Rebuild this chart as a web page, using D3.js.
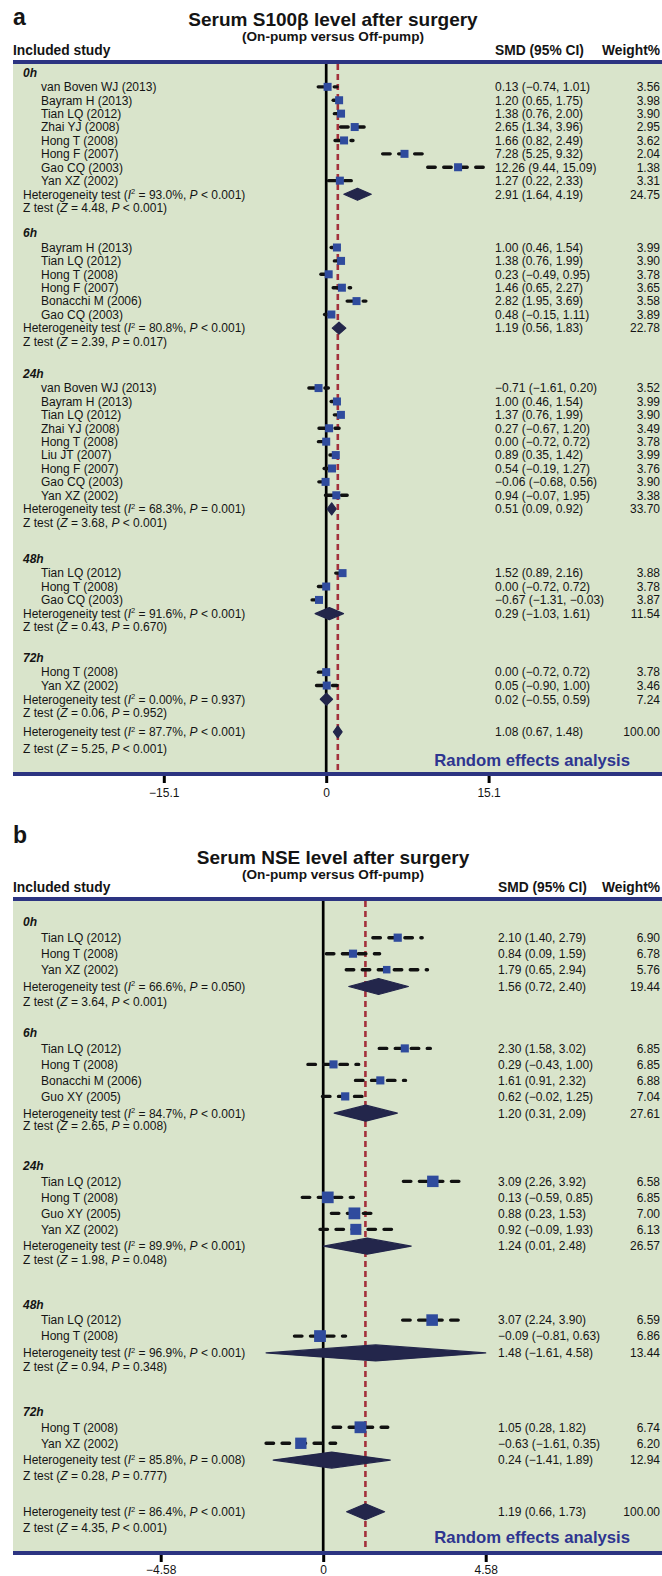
<!DOCTYPE html>
<html><head><meta charset="utf-8">
<script src="https://cdn.jsdelivr.net/npm/d3@7"></script>
<style>
html,body{margin:0;padding:0;background:#fff;}
svg{display:block;font-family:"Liberation Sans",Arial,Helvetica,sans-serif;}
</style></head><body>
<svg id="chart" width="662" height="1576"></svg>
<script>
// ================= DATA: panel a, Serum S100β =================
const s100Groups = ["0h", "6h", "24h", "48h", "72h"];
const s100StudyGroup = [0,0,0,0,0,0,0,0, 1,1,1,1,1,1, 2,2,2,2,2,2,2,2,2, 3,3,3, 4,4];
const s100Studies = [
  "van Boven WJ (2013)", "Bayram H (2013)", "Tian LQ (2012)", "Zhai YJ (2008)", "Hong T (2008)", "Hong F (2007)", "Gao CQ (2003)", "Yan XZ (2002)",
  "Bayram H (2013)", "Tian LQ (2012)", "Hong T (2008)", "Hong F (2007)", "Bonacchi M (2006)", "Gao CQ (2003)",
  "van Boven WJ (2013)", "Bayram H (2013)", "Tian LQ (2012)", "Zhai YJ (2008)", "Hong T (2008)", "Liu JT (2007)", "Hong F (2007)", "Gao CQ (2003)", "Yan XZ (2002)",
  "Tian LQ (2012)", "Hong T (2008)", "Gao CQ (2003)",
  "Hong T (2008)", "Yan XZ (2002)"
];
const s100Smd = [0.13, 1.20, 1.38, 2.65, 1.66, 7.28, 12.26, 1.27,
  1.00, 1.38, 0.23, 1.46, 2.82, 0.48,
  -0.71, 1.00, 1.37, 0.27, 0.00, 0.89, 0.54, -0.06, 0.94,
  1.52, 0.00, -0.67,
  0.00, 0.05];
const s100Lo = [-0.74, 0.65, 0.76, 1.34, 0.82, 5.25, 9.44, 0.22,
  0.46, 0.76, -0.49, 0.65, 1.95, -0.15,
  -1.61, 0.46, 0.76, -0.67, -0.72, 0.35, -0.19, -0.68, -0.07,
  0.89, -0.72, -1.31,
  -0.72, -0.90];
const s100Hi = [1.01, 1.75, 2.00, 3.96, 2.49, 9.32, 15.09, 2.33,
  1.54, 1.99, 0.95, 2.27, 3.69, 1.11,
  0.20, 1.54, 1.99, 1.20, 0.72, 1.42, 1.27, 0.56, 1.95,
  2.16, 0.72, -0.03,
  0.72, 1.00];
const s100Weight = [3.56, 3.98, 3.90, 2.95, 3.62, 2.04, 1.38, 3.31,
  3.99, 3.90, 3.78, 3.65, 3.58, 3.89,
  3.52, 3.99, 3.90, 3.49, 3.78, 3.99, 3.76, 3.90, 3.38,
  3.88, 3.78, 3.87,
  3.78, 3.46];
const s100SubSmd = [2.91, 1.19, 0.51, 0.29, 0.02];
const s100SubLo = [1.64, 0.56, 0.09, -1.03, -0.55];
const s100SubHi = [4.19, 1.83, 0.92, 1.61, 0.59];
const s100SubWeight = [24.75, 22.78, 33.70, 11.54, 7.24];
const s100SubI2 = ["93.0", "80.8", "68.3", "91.6", "0.00"];
const s100SubPHet = ["< 0.001", "< 0.001", "= 0.001", "< 0.001", "= 0.937"];
const s100SubZ = ["4.48", "2.39", "3.68", "0.43", "0.06"];
const s100SubPZ = ["< 0.001", "= 0.017", "< 0.001", "= 0.670", "= 0.952"];
const s100Overall = [1.08, 0.67, 1.48, 100.00];          // SMD, lower, upper, weight
const s100OverallStats = ["87.7", "< 0.001", "5.25", "< 0.001"]; // I2, P(het), Z, P(Z)
const s100Ticks = [-15.1, 0, 15.1];

// ================= DATA: panel b, Serum NSE =================
const nseGroups = ["0h", "6h", "24h", "48h", "72h"];
const nseStudyGroup = [0,0,0, 1,1,1,1, 2,2,2,2, 3,3, 4,4];
const nseStudies = [
  "Tian LQ (2012)", "Hong T (2008)", "Yan XZ (2002)",
  "Tian LQ (2012)", "Hong T (2008)", "Bonacchi M (2006)", "Guo XY (2005)",
  "Tian LQ (2012)", "Hong T (2008)", "Guo XY (2005)", "Yan XZ (2002)",
  "Tian LQ (2012)", "Hong T (2008)",
  "Hong T (2008)", "Yan XZ (2002)"
];
const nseSmd = [2.10, 0.84, 1.79, 2.30, 0.29, 1.61, 0.62, 3.09, 0.13, 0.88, 0.92, 3.07, -0.09, 1.05, -0.63];
const nseLo = [1.40, 0.09, 0.65, 1.58, -0.43, 0.91, -0.02, 2.26, -0.59, 0.23, -0.09, 2.24, -0.81, 0.28, -1.61];
const nseHi = [2.79, 1.59, 2.94, 3.02, 1.00, 2.32, 1.25, 3.92, 0.85, 1.53, 1.93, 3.90, 0.63, 1.82, 0.35];
const nseWeight = [6.90, 6.78, 5.76, 6.85, 6.85, 6.88, 7.04, 6.58, 6.85, 7.00, 6.13, 6.59, 6.86, 6.74, 6.20];
const nseSubSmd = [1.56, 1.20, 1.24, 1.48, 0.24];
const nseSubLo = [0.72, 0.31, 0.01, -1.61, -1.41];
const nseSubHi = [2.40, 2.09, 2.48, 4.58, 1.89];
const nseSubWeight = [19.44, 27.61, 26.57, 13.44, 12.94];
const nseSubI2 = ["66.6", "84.7", "89.9", "96.9", "85.8"];
const nseSubPHet = ["= 0.050", "< 0.001", "< 0.001", "< 0.001", "= 0.008"];
const nseSubZ = ["3.64", "2.65", "1.98", "0.94", "0.28"];
const nseSubPZ = ["< 0.001", "= 0.008", "= 0.048", "= 0.348", "= 0.777"];
const nseOverall = [1.19, 0.66, 1.73, 100.00];
const nseOverallStats = ["86.4", "< 0.001", "4.35", "< 0.001"];
const nseTicks = [-4.58, 0, 4.58];

// ================= LAYOUT / STYLE =================
const W = 662;
const C = {
  green: "#d9e4cb", border: "#2c3481", square: "#2f4b9d", diamond: "#23264b",
  red: "#a3303b", text: "#141414", ra: "#2e3590"
};
const layoutA = {
  letter: "a", title: "Serum S100\u03b2 level after surgery",
  letterY: 25, titleY: 25.5, subY: 40.5, headY: 54.5,
  boxTop: 60, boxBottom: 772,
  rowY0: 72.5, pitch: 13.4, hdrGap: 1.07, hetGap: 1.02, zGaps: [1, 1, 1, 1, 1],
  groupGaps: [0, 1.9, 2.4, 2.72, 2.3], overallGap: 1.43, overallZGap: 1.27,
  domain: [-15.1, 15.1], xRange: [163.8, 488.6], diamondH: 12,
  squareBase: [8, 8, 8, 8, 8], squareByWeight: false,
  smdX: 495, tickLabelDy: 21, raY: 766
};
const layoutB = {
  letter: "b", title: "Serum NSE level after surgery",
  letterY: 843, titleY: 864, subY: 878.5, headY: 892.3,
  boxTop: 897, boxBottom: 1551,
  rowY0: 922, pitch: 16, hdrGap: 0.98, hetGap: 1.05, zGaps: [0.95, 0.81, 0.83, 0.86, 1.0],
  groupGaps: [0, 1.94, 2.47, 2.81, 2.81], overallGap: 2.23, overallZGap: 1.0,
  domain: [-4.58, 4.58], xRange: [160.7, 485.7], diamondH: 16,
  squareBase: [8.2, 8.2, 11.8, 11.8, 11.8], squareByWeight: true,
  smdX: 498, tickLabelDy: 19, raY: 1543.3
};

const svg = d3.select("#chart");
const f2 = d3.format(".2f");
const ciText = (m, l, h) => `${f2(m)} (${f2(l)}, ${f2(h)})`;

function drawPanel(L, D) {
  const g = svg.append("g");
  const x = d3.scaleLinear().domain(L.domain).range(L.xRange);
  const y = d3.scaleLinear().domain([0, 1]).range([L.rowY0, L.rowY0 + L.pitch]);

  // ---- build rows ----
  const rows = [];
  let slot = 0;
  D.groups.forEach((gname, gi) => {
    slot += L.groupGaps[gi];
    rows.push({ type: "hdr", slot, label: gname });
    const s0 = slot + L.hdrGap;
    const idx = D.studies.map((_, i) => i).filter(i => D.studyGroup[i] === gi);
    const maxW = d3.max(idx, i => D.weight[i]);
    idx.forEach((i, k) => rows.push({
      type: "study", slot: s0 + k, label: D.studies[i], smd: D.smd[i], lo: D.lo[i], hi: D.hi[i],
      w: D.weight[i], size: L.squareByWeight ? L.squareBase[gi] * Math.sqrt(D.weight[i] / maxW) : L.squareBase[gi]
    }));
    const hs = s0 + idx.length - 1 + L.hetGap;
    rows.push({ type: "het", slot: hs, i2: D.subI2[gi], p: D.subPHet[gi], smd: D.subSmd[gi], lo: D.subLo[gi], hi: D.subHi[gi], w: D.subWeight[gi] });
    const zs = hs + L.zGaps[gi];
    rows.push({ type: "z", slot: zs, z: D.subZ[gi], p: D.subPZ[gi] });
    slot = zs;
  });
  const oh = slot + L.overallGap;
  rows.push({ type: "het", slot: oh, i2: D.overallStats[0], p: D.overallStats[1], smd: D.overall[0], lo: D.overall[1], hi: D.overall[2], w: D.overall[3] });
  rows.push({ type: "z", slot: oh + L.overallZGap, z: D.overallStats[2], p: D.overallStats[3] });

  // ---- titles ----
  g.append("text").attr("x", 13).attr("y", L.letterY).attr("font-size", 23).attr("font-weight", "bold").attr("fill", C.text).text(L.letter);
  g.append("text").attr("x", 333).attr("y", L.titleY).attr("text-anchor", "middle").attr("font-size", 19).attr("font-weight", "bold").attr("fill", C.text).text(L.title);
  g.append("text").attr("x", 333).attr("y", L.subY).attr("text-anchor", "middle").attr("font-size", 13.6).attr("font-weight", "bold").attr("fill", C.text).text("(On-pump versus Off-pump)");
  g.append("text").attr("x", 13).attr("y", L.headY).attr("font-size", 13.8).attr("font-weight", "bold").attr("fill", C.text).text("Included study");
  g.append("text").attr("x", L.smdX).attr("y", L.headY).attr("font-size", 13.8).attr("font-weight", "bold").attr("fill", C.text).text("SMD (95% CI)");
  g.append("text").attr("x", 660).attr("y", L.headY).attr("text-anchor", "end").attr("font-size", 13.8).attr("font-weight", "bold").attr("fill", C.text).text("Weight%");

  // ---- background box ----
  g.append("rect").attr("x", 13).attr("y", L.boxTop).attr("width", W - 13).attr("height", L.boxBottom - L.boxTop).attr("fill", C.green);

  // ---- vertical reference lines ----
  g.append("line").attr("x1", x(0)).attr("x2", x(0)).attr("y1", L.boxTop).attr("y2", L.boxBottom)
    .attr("stroke", "#000").attr("stroke-width", 2.7);
  g.append("line").attr("x1", x(D.overall[0])).attr("x2", x(D.overall[0])).attr("y1", L.boxTop + 4).attr("y2", L.boxBottom)
    .attr("stroke", C.red).attr("stroke-width", 2.6).attr("stroke-dasharray", "6,4");

  // ---- study CIs and squares ----
  const studies = rows.filter(r => r.type === "study");
  g.selectAll(".ci").data(studies).join("line").attr("class", "ci")
    .attr("x1", d => x(d.lo)).attr("x2", d => x(d.hi)).attr("y1", d => y(d.slot)).attr("y2", d => y(d.slot))
    .attr("stroke", "#111").attr("stroke-width", 3.4).attr("stroke-linecap", "round").attr("stroke-dasharray", "7.5,8.5");
  g.selectAll(".sq").data(studies).join("rect").attr("class", "sq")
    .attr("x", d => x(d.smd) - d.size / 2).attr("y", d => y(d.slot) - d.size / 2)
    .attr("width", d => d.size).attr("height", d => d.size).attr("fill", C.square);

  // ---- diamonds ----
  const hets = rows.filter(r => r.type === "het");
  const h2 = L.diamondH / 2;
  g.selectAll(".dm").data(hets).join("path").attr("class", "dm")
    .attr("d", d => {
      const cy = y(d.slot);
      return `M${x(d.lo)},${cy}L${x(d.smd)},${cy - h2}L${x(d.hi)},${cy}L${x(d.smd)},${cy + h2}Z`;
    })
    .attr("fill", C.diamond).attr("stroke", C.diamond).attr("stroke-width", 1.2).attr("stroke-linejoin", "round");

  // ---- borders ----
  g.append("rect").attr("x", 13).attr("y", L.boxTop).attr("width", W - 13).attr("height", 4).attr("fill", C.border);
  g.append("rect").attr("x", 13).attr("y", L.boxBottom).attr("width", W - 13).attr("height", 4).attr("fill", C.border);

  // ---- axis ----
  const ax = g.append("g").attr("transform", `translate(0,${L.boxBottom + 4})`)
    .call(d3.axisBottom(x).tickValues(D.ticks).tickSize(7).tickFormat(d3.format("")));
  ax.select(".domain").remove();
  ax.selectAll(".tick line").attr("stroke", "#000").attr("stroke-width", 3);
  ax.selectAll(".tick text").attr("y", L.tickLabelDy).attr("dy", null)
    .attr("font-family", "Liberation Sans, Arial, sans-serif").attr("font-size", 12).attr("fill", C.text);

  // ---- left text ----
  const tx = g.append("g").attr("font-size", 12).attr("fill", C.text);
  rows.forEach(r => {
    const ty = y(r.slot) + 4.3;
    if (r.type === "hdr") {
      tx.append("text").attr("x", 23).attr("y", ty).attr("font-weight", "bold").attr("font-style", "italic").text(r.label);
    } else if (r.type === "study") {
      tx.append("text").attr("x", 41).attr("y", ty).text(r.label);
    } else if (r.type === "het") {
      const t = tx.append("text").attr("x", 23).attr("y", ty);
      t.append("tspan").text("Heterogeneity test (");
      t.append("tspan").attr("font-style", "italic").text("I");
      t.append("tspan").attr("font-size", 7.5).attr("dy", -4.5).text("2");
      t.append("tspan").attr("dy", 4.5).text(` = ${r.i2}%, `);
      t.append("tspan").attr("font-style", "italic").text("P");
      t.append("tspan").text(` ${r.p})`);
    } else if (r.type === "z") {
      const t = tx.append("text").attr("x", 23).attr("y", ty);
      t.append("tspan").text("Z test (");
      t.append("tspan").attr("font-style", "italic").text("Z");
      t.append("tspan").text(` = ${r.z}, `);
      t.append("tspan").attr("font-style", "italic").text("P");
      t.append("tspan").text(` ${r.p})`);
    }
    if (r.type === "study" || r.type === "het") {
      tx.append("text").attr("x", L.smdX).attr("y", ty).text(ciText(r.smd, r.lo, r.hi));
      tx.append("text").attr("x", 660).attr("y", ty).attr("text-anchor", "end").text(f2(r.w));
    }
  });

  g.append("text").attr("x", 630).attr("y", L.raY).attr("text-anchor", "end").attr("font-size", 16.7)
    .attr("font-weight", "bold").attr("fill", C.ra).text("Random effects analysis");
}

drawPanel(layoutA, {
  groups: s100Groups, studyGroup: s100StudyGroup, studies: s100Studies, smd: s100Smd, lo: s100Lo, hi: s100Hi, weight: s100Weight,
  subSmd: s100SubSmd, subLo: s100SubLo, subHi: s100SubHi, subWeight: s100SubWeight, subI2: s100SubI2, subPHet: s100SubPHet,
  subZ: s100SubZ, subPZ: s100SubPZ, overall: s100Overall, overallStats: s100OverallStats, ticks: s100Ticks
});
drawPanel(layoutB, {
  groups: nseGroups, studyGroup: nseStudyGroup, studies: nseStudies, smd: nseSmd, lo: nseLo, hi: nseHi, weight: nseWeight,
  subSmd: nseSubSmd, subLo: nseSubLo, subHi: nseSubHi, subWeight: nseSubWeight, subI2: nseSubI2, subPHet: nseSubPHet,
  subZ: nseSubZ, subPZ: nseSubPZ, overall: nseOverall, overallStats: nseOverallStats, ticks: nseTicks
});
</script>
</body></html>
